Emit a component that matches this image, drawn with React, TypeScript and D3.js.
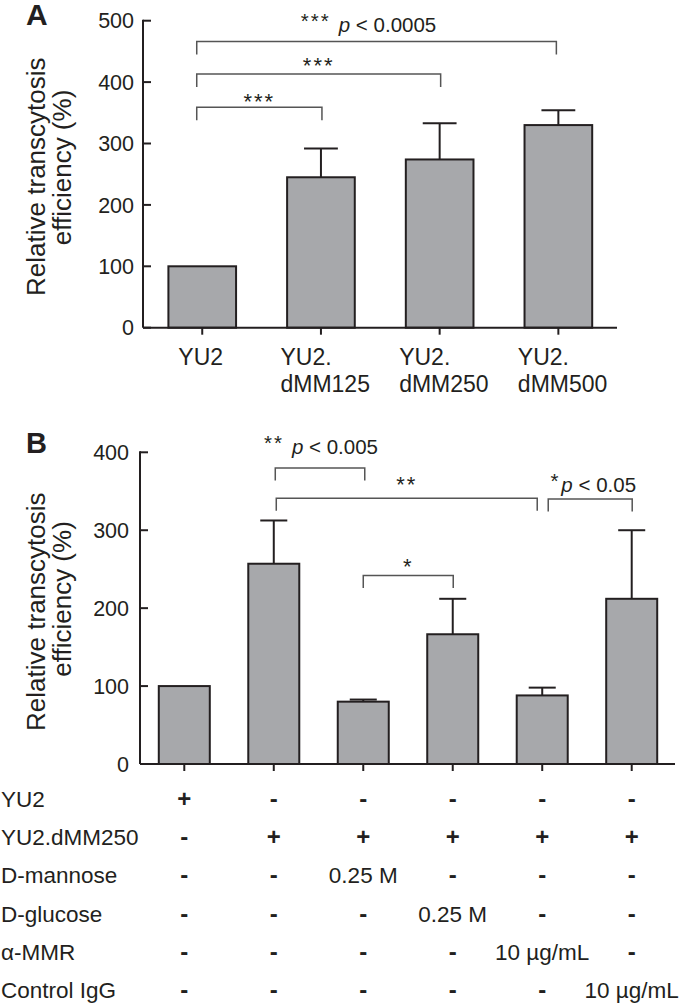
import React from "react";
import * as d3 from "d3";

// ---------- Data ----------
const categoriesA = ["YU2", "YU2.dMM125", "YU2.dMM250", "YU2.dMM500"];
const labelLinesA = [["YU2"], ["YU2.", "dMM125"], ["YU2.", "dMM250"], ["YU2.", "dMM500"]];
const meansA = [100, 245, 274, 330];
const errorsA = [0, 47, 59, 24];
const ticksA = [0, 100, 200, 300, 400, 500];
const bracketsA = [
  { from: 0, to: 1, level: 359, stars: "***", p: "" },
  { from: 0, to: 2, level: 413, stars: "***", p: "" },
  { from: 0, to: 3, level: 466, stars: "***", p: "< 0.0005" },
];

const groupsB = ["1", "2", "3", "4", "5", "6"];
const meansB = [100, 257, 80, 166.5, 88, 212];
const errorsB = [0, 55.5, 2.7, 45.5, 10, 88];
const ticksB = [0, 100, 200, 300, 400];
const bracketsB = [
  { from: 1, to: 2, level: 380, stars: "**", p: "< 0.005" },
  { from: 1, to: 4, level: 341, stars: "**", p: "" },
  { from: 2, to: 3, level: 242, stars: "*", p: "" },
  { from: 4, to: 5, level: 340, stars: "*", p: "< 0.05" },
];

const rowLabels = ["YU2", "YU2.dMM250", "D-mannose", "D-glucose", "α-MMR", "Control IgG"];
const tableCells = [
  ["+", "-", "-", "-", "-", "-"],
  ["-", "+", "+", "+", "+", "+"],
  ["-", "-", "0.25 M", "-", "-", "-"],
  ["-", "-", "-", "0.25 M", "-", "-"],
  ["-", "-", "-", "-", "10 µg/mL", "-"],
  ["-", "-", "-", "-", "-", "10 µg/mL"],
];

const yTitle = ["Relative transcytosis", "efficiency (%)"];

// ---------- Layout (styling) ----------
const FONT = "'Liberation Sans', Arial, Helvetica, sans-serif";
const INK = "#231f20";
const BAR = "#a7a8ab";
const BRK = "#555555";

// per-bracket endpoint nudges & label lifts (layout only)
const layoutA = [
  { l: -5.5, r: 1, lift: -1.5 },
  { l: -5.5, r: 1, lift: 1 },
  { l: -5.5, r: -2, lift: 10, dx: -8 },
];
const layoutB = [
  { l: 1.5, r: 1.5, lift: 13.5, dx: 1 },
  { l: 2.5, r: -5, lift: 6, dx: 0 },
  { l: 0, r: 0.5, lift: 1.5, dx: 0 },
  { l: 6, r: 0.5, lift: 7.5, dx: 3 },
];

function Bars({ x, y, keys, means, errs, capFrac }) {
  return (
    <g>
      {keys.map((k, i) => {
        const x0 = x(k);
        const bw = x.bandwidth();
        const cx = x0 + bw / 2;
        const top = y(means[i]);
        const base = y(0);
        const et = y(means[i] + errs[i]);
        return (
          <g key={k}>
            {errs[i] > 0 && (
              <g stroke={INK} strokeWidth={2}>
                <line x1={cx} x2={cx} y1={top} y2={et} />
                <line x1={cx - (bw * capFrac) / 2} x2={cx + (bw * capFrac) / 2} y1={et} y2={et} />
              </g>
            )}
            <rect x={x0} y={top} width={bw} height={base - top} fill={BAR} stroke={INK} strokeWidth={2} />
          </g>
        );
      })}
    </g>
  );
}

function Brackets({ x, y, keys, brackets, layout, leg, fs }) {
  return (
    <g>
      {brackets.map((b, i) => {
        const L = layout[i];
        const bw = x.bandwidth();
        const xl = x(keys[b.from]) + bw / 2 + L.l;
        const xr = x(keys[b.to]) + bw / 2 + L.r;
        const yy = y(b.level);
        const mid = (xl + xr) / 2 + (L.dx || 0);
        const baseY = yy - L.lift;
        return (
          <g key={i}>
            <path d={`M${xl},${yy + leg}V${yy}H${xr}V${yy + leg}`} fill="none" stroke={BRK} strokeWidth={1.5} />
            {b.p ? (
              <text x={mid} y={baseY} textAnchor="middle" fontSize={fs} fill={INK} fontFamily={FONT}>
                <tspan dy={-4} letterSpacing={2}>{b.stars}</tspan>
                <tspan dy={4} dx={b.stars.length > 1 ? 8 : 1} fontStyle="italic">p</tspan>
                <tspan>{" " + b.p}</tspan>
              </text>
            ) : (
              <text x={mid} y={baseY} textAnchor="middle" fontSize={22} letterSpacing={2} fill={INK} fontFamily={FONT}>
                {b.stars}
              </text>
            )}
          </g>
        );
      })}
    </g>
  );
}

function YAxis({ y, ticks, x0, x1 }) {
  const [d0, d1] = y.domain();
  return (
    <g>
      <line x1={x0} x2={x0} y1={y(d1) - 1} y2={y(d0)} stroke={INK} strokeWidth={2} />
      {ticks.map((t) => (
        <g key={t}>
          <line x1={x0} x2={x0 + 8} y1={y(t)} y2={y(t)} stroke={INK} strokeWidth={2} />
          <text x={x1} y={y(t)} dy="0.36em" textAnchor="end" fontSize={21.5} fill={INK} fontFamily={FONT}>
            {t}
          </text>
        </g>
      ))}
    </g>
  );
}

export default function App() {
  // Panel A
  const yA = d3.scaleLinear().domain([0, 500]).range([327.7, 20.7]);
  const xA = d3.scaleBand().domain(categoriesA).range([143, 617.6]).paddingInner(0.43).paddingOuter(0.214);
  // Panel B
  const yB = d3.scaleLinear().domain([0, 400]).range([764, 452.3]);
  const xB = d3.scaleBand().domain(groupsB).range([140, 676]).paddingInner(0.43).paddingOuter(0.21);

  const rowY = d3.scaleLinear().domain([0, 5]).range([806.7, 998.2]);

  return (
    <svg
      width={680}
      height={1008}
      viewBox="0 0 680 1008"
      style={{ position: "absolute", left: 0, top: 0, background: "#fff" }}
      fontFamily={FONT}
    >
      <rect width={680} height={1008} fill="#fff" />

      {/* ---------------- Panel A ---------------- */}
      <text x={26} y={25} fontSize={30} fontWeight="bold" fill={INK}>A</text>
      <text transform="rotate(-90)" x={-176.7} y={45} textAnchor="middle" fontSize={26} fill={INK}>
        {yTitle[0]}
      </text>
      <text transform="rotate(-90)" x={-167.5} y={71} textAnchor="middle" fontSize={26} fill={INK}>
        {yTitle[1]}
      </text>

      <Bars x={xA} y={yA} keys={categoriesA} means={meansA} errs={errorsA} capFrac={0.5} />
      <YAxis y={yA} ticks={ticksA} x0={143} x1={134} />
      <line x1={143} x2={617} y1={yA(0)} y2={yA(0)} stroke={INK} strokeWidth={2} />
      {categoriesA.map((c, i) => {
        const cx = xA(c) + xA.bandwidth() / 2;
        const lines = labelLinesA[i];
        return (
          <g key={c}>
            <line x1={cx} x2={cx} y1={yA(0)} y2={yA(0) + 7} stroke={INK} strokeWidth={2} />
            {lines.map((ln, j) => (
              <text
                key={j}
                x={lines.length > 1 ? cx - 40.5 : cx - 1.5}
                y={365 + j * 27}
                textAnchor={lines.length > 1 ? "start" : "middle"}
                fontSize={23}
                fill={INK}
              >
                {ln}
              </text>
            ))}
          </g>
        );
      })}
      <Brackets x={xA} y={yA} keys={categoriesA} brackets={bracketsA} layout={layoutA} leg={13} fs={20.5} />

      {/* ---------------- Panel B ---------------- */}
      <text x={26} y={453} fontSize={29} fontWeight="bold" fill={INK}>B</text>
      <text transform="rotate(-90)" x={-611.7} y={45} textAnchor="middle" fontSize={26} fill={INK}>
        {yTitle[0]}
      </text>
      <text transform="rotate(-90)" x={-599} y={71} textAnchor="middle" fontSize={26} fill={INK}>
        {yTitle[1]}
      </text>

      <Bars x={xB} y={yB} keys={groupsB} means={meansB} errs={errorsB} capFrac={0.53} />
      <YAxis y={yB} ticks={ticksB} x0={140} x1={129} />
      <line x1={140} x2={675} y1={yB(0)} y2={yB(0)} stroke={INK} strokeWidth={2} />
      {groupsB.map((g) => {
        const cx = xB(g) + xB.bandwidth() / 2;
        return <line key={g} x1={cx} x2={cx} y1={yB(0)} y2={yB(0) + 7} stroke={INK} strokeWidth={2} />;
      })}
      <Brackets x={xB} y={yB} keys={groupsB} brackets={bracketsB} layout={layoutB} leg={12.5} fs={20.5} />

      {/* ---------------- Table ---------------- */}
      {rowLabels.map((r, i) => (
        <g key={r}>
          <text x={1} y={rowY(i)} fontSize={22.5} fill={INK}>
            {r}
          </text>
          {tableCells[i].map((c, j) => (
            <text
              key={j}
              x={xB(groupsB[j]) + xB.bandwidth() / 2}
              y={rowY(i)}
              textAnchor="middle"
              fontSize={c.length === 1 ? 24 : 22.5}
              fontWeight={c.length === 1 ? "bold" : "normal"}
              fill={INK}
            >
              {c}
            </text>
          ))}
        </g>
      ))}
    </svg>
  );
}
